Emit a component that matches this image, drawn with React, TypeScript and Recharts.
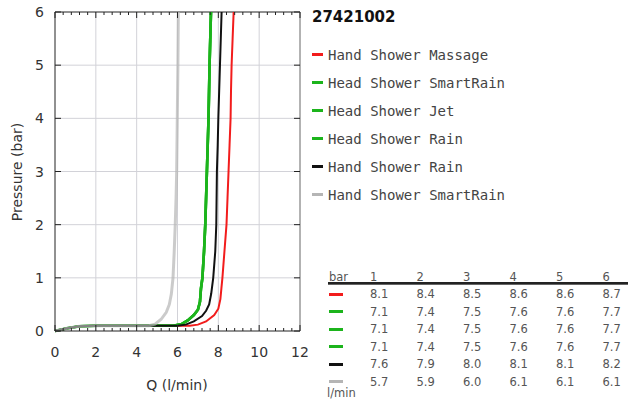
import React from 'react';
import { LineChart, Line, XAxis, YAxis, CartesianGrid, ReferenceLine } from 'recharts';

// chart title and series names / colours
const chartTitle = '27421002';
const seriesNames = [
  'Hand Shower Massage',
  'Head Shower SmartRain',
  'Head Shower Jet',
  'Head Shower Rain',
  'Hand Shower Rain',
  'Hand Shower SmartRain',
];
const seriesColors = ['#f21c1c', '#1cb41c', '#1cb41c', '#1cb41c', '#111111', '#b5b5b5'];
const seriesWidths = [2, 2.6, 2.6, 2.6, 2, 3];

// measured curves: q = flow (l/min), p = pressure (bar)
const handMassage = [
  { q: 0, p: 0 }, { q: 0.6, p: 0.05 }, { q: 1.2, p: 0.09 }, { q: 2, p: 0.1 },
  { q: 6.6, p: 0.1 }, { q: 7.0, p: 0.12 }, { q: 7.4, p: 0.18 }, { q: 7.8, p: 0.3 },
  { q: 8.0, p: 0.42 }, { q: 8.1, p: 0.6 }, { q: 8.15, p: 0.8 }, { q: 8.2, p: 1.0 },
  { q: 8.3, p: 1.5 }, { q: 8.4, p: 2.0 }, { q: 8.45, p: 2.5 }, { q: 8.5, p: 3.0 },
  { q: 8.55, p: 3.5 }, { q: 8.6, p: 4.0 }, { q: 8.62, p: 4.5 }, { q: 8.65, p: 5.0 },
  { q: 8.7, p: 5.5 }, { q: 8.75, p: 6.0 },
];
const headSmartRain = [
  { q: 0, p: 0 }, { q: 0.6, p: 0.05 }, { q: 1.2, p: 0.09 }, { q: 2, p: 0.1 },
  { q: 5.8, p: 0.1 }, { q: 6.2, p: 0.13 }, { q: 6.5, p: 0.2 }, { q: 6.8, p: 0.3 },
  { q: 7.0, p: 0.4 }, { q: 7.1, p: 0.55 }, { q: 7.15, p: 0.8 }, { q: 7.22, p: 1.0 },
  { q: 7.3, p: 1.5 }, { q: 7.36, p: 2.0 }, { q: 7.44, p: 3.0 }, { q: 7.48, p: 3.5 },
  { q: 7.52, p: 4.0 }, { q: 7.57, p: 5.0 }, { q: 7.64, p: 6.0 },
];
const headJet = [
  { q: 0, p: 0 }, { q: 0.6, p: 0.05 }, { q: 1.2, p: 0.09 }, { q: 2, p: 0.1 },
  { q: 5.8, p: 0.1 }, { q: 6.2, p: 0.13 }, { q: 6.5, p: 0.2 }, { q: 6.8, p: 0.3 },
  { q: 7.0, p: 0.4 }, { q: 7.1, p: 0.55 }, { q: 7.15, p: 0.8 }, { q: 7.22, p: 1.0 },
  { q: 7.3, p: 1.5 }, { q: 7.36, p: 2.0 }, { q: 7.44, p: 3.0 }, { q: 7.48, p: 3.5 },
  { q: 7.52, p: 4.0 }, { q: 7.57, p: 5.0 }, { q: 7.64, p: 6.0 },
];
const headRain = [
  { q: 0, p: 0 }, { q: 0.6, p: 0.05 }, { q: 1.2, p: 0.09 }, { q: 2, p: 0.1 },
  { q: 5.8, p: 0.1 }, { q: 6.2, p: 0.13 }, { q: 6.5, p: 0.2 }, { q: 6.8, p: 0.3 },
  { q: 7.0, p: 0.4 }, { q: 7.1, p: 0.55 }, { q: 7.15, p: 0.8 }, { q: 7.22, p: 1.0 },
  { q: 7.3, p: 1.5 }, { q: 7.36, p: 2.0 }, { q: 7.44, p: 3.0 }, { q: 7.48, p: 3.5 },
  { q: 7.52, p: 4.0 }, { q: 7.57, p: 5.0 }, { q: 7.64, p: 6.0 },
];
const handRain = [
  { q: 0, p: 0 }, { q: 0.6, p: 0.05 }, { q: 1.2, p: 0.09 }, { q: 2, p: 0.1 },
  { q: 6.0, p: 0.1 }, { q: 6.4, p: 0.12 }, { q: 6.8, p: 0.18 }, { q: 7.2, p: 0.28 },
  { q: 7.4, p: 0.38 }, { q: 7.55, p: 0.5 }, { q: 7.65, p: 0.7 }, { q: 7.75, p: 1.0 },
  { q: 7.85, p: 1.5 }, { q: 7.9, p: 2.0 }, { q: 7.93, p: 3.0 }, { q: 7.97, p: 3.5 },
  { q: 8.0, p: 4.0 }, { q: 8.08, p: 5.0 }, { q: 8.16, p: 6.0 },
];
const handSmartRain = [
  { q: 0, p: 0 }, { q: 0.6, p: 0.05 }, { q: 1.2, p: 0.09 }, { q: 2, p: 0.1 },
  { q: 4.6, p: 0.1 }, { q: 4.9, p: 0.13 }, { q: 5.2, p: 0.22 }, { q: 5.45, p: 0.35 },
  { q: 5.6, p: 0.5 }, { q: 5.7, p: 0.7 }, { q: 5.78, p: 1.0 }, { q: 5.84, p: 1.5 },
  { q: 5.89, p: 2.0 }, { q: 5.93, p: 2.5 }, { q: 5.96, p: 3.0 }, { q: 5.99, p: 4.0 },
  { q: 6.02, p: 5.0 }, { q: 6.04, p: 6.0 },
];
const seriesData = [handMassage, headSmartRain, headJet, headRain, handRain, handSmartRain];

// flow table (l/min at given bar)
const tableBars = [1, 2, 3, 4, 5, 6];
const tableFlows = [
  [8.1, 8.4, 8.5, 8.6, 8.6, 8.7],
  [7.1, 7.4, 7.5, 7.6, 7.6, 7.7],
  [7.1, 7.4, 7.5, 7.6, 7.6, 7.7],
  [7.1, 7.4, 7.5, 7.6, 7.6, 7.7],
  [7.6, 7.9, 8.0, 8.1, 8.1, 8.2],
  [5.7, 5.9, 6.0, 6.1, 6.1, 6.1],
];

// axis ticks
const xTicks = [
  0, 0.4, 0.8, 1.2, 1.6, 2, 2.4, 2.8, 3.2, 3.6, 4, 4.4, 4.8, 5.2, 5.6, 6,
  6.4, 6.8, 7.2, 7.6, 8, 8.4, 8.8, 9.2, 9.6, 10, 10.4, 10.8, 11.2, 11.6, 12,
];
const xMajor = [0, 2, 4, 6, 8, 10, 12];
const yTicks = [0, 1, 2, 3, 4, 5, 6];
const gridX = [2, 4, 6, 8, 10];
const gridY = [1, 2, 3, 4, 5];

const PLOT_LEFT = 55;
const PLOT_RIGHT = 300;
const PLOT_TOP = 12;
const PLOT_BOTTOM = 331;
const sans = '"DejaVu Sans", sans-serif';

const XTick = (props: any) => {
  const { x, payload } = props;
  const major = xMajor.includes(payload.value);
  const len = major ? 6 : 3;
  return (
    <g>
      <line x1={x} y1={PLOT_BOTTOM} x2={x} y2={PLOT_BOTTOM - len} stroke="#222" />
      <line x1={x} y1={PLOT_TOP} x2={x} y2={PLOT_TOP + len} stroke="#222" />
      {major && (
        <text x={x} y={PLOT_BOTTOM + 26} textAnchor="middle" fontSize={14} fill="#333" fontFamily={sans}>
          {payload.value}
        </text>
      )}
    </g>
  );
};

const YTick = (props: any) => {
  const { y, payload } = props;
  return (
    <g>
      <line x1={PLOT_LEFT} y1={y} x2={PLOT_LEFT + 6} y2={y} stroke="#222" />
      <line x1={PLOT_RIGHT} y1={y} x2={PLOT_RIGHT - 6} y2={y} stroke="#222" />
      <text x={44} y={y + 5} textAnchor="end" fontSize={14} fill="#333" fontFamily={sans}>
        {payload.value}
      </text>
    </g>
  );
};

export default function App() {
  const colLeft = (i: number) => 370 + i * 46.5;
  const rowMid = (i: number) => 294.3 + i * 17.5;
  return (
    <div style={{ position: 'absolute', left: 0, top: 0, width: 628, height: 401, background: '#fff' }}>
      <LineChart
        width={628}
        height={401}
        margin={{ top: PLOT_TOP, right: 628 - PLOT_RIGHT, bottom: 401 - PLOT_BOTTOM - 1, left: PLOT_LEFT - 1 }}
      >
        <CartesianGrid stroke="#d2d2d8" verticalValues={gridX} horizontalValues={gridY} />
        <XAxis
          type="number"
          dataKey="q"
          domain={[0, 12]}
          ticks={xTicks}
          interval={0}
          height={1}
          tickSize={0}
          tickMargin={0}
          tickLine={false}
          tick={(p: any) => <XTick {...p} />}
          axisLine={{ stroke: '#222' }}
        />
        <YAxis
          type="number"
          dataKey="p"
          domain={[0, 6]}
          ticks={yTicks}
          interval={0}
          width={1}
          tickSize={0}
          tickMargin={0}
          tickLine={false}
          tick={(p: any) => <YTick {...p} />}
          axisLine={{ stroke: '#222' }}
        />
        <ReferenceLine y={6} stroke="#222" />
        <ReferenceLine x={12} stroke="#666" />
        {seriesData.map((d, i) => (
          <Line
            key={seriesNames[i]}
            data={d}
            dataKey="p"
            type="linear"
            stroke={seriesColors[i]}
            strokeWidth={seriesWidths[i]}
            strokeOpacity={i === 5 ? 0.7 : 1}
            dot={false}
            activeDot={false}
            isAnimationActive={false}
          />
        ))}
      </LineChart>

      {/* axis titles */}
      <div
        style={{
          position: 'absolute', left: 17, top: 172, transform: 'translate(-50%, -50%) rotate(-90deg)',
          whiteSpace: 'nowrap', fontFamily: sans, fontSize: 14, color: '#333',
        }}
      >
        Pressure (bar)
      </div>
      <div
        style={{
          position: 'absolute', left: 177, top: 385, transform: 'translate(-50%, -50%)',
          whiteSpace: 'nowrap', fontFamily: sans, fontSize: 14, color: '#333',
        }}
      >
        Q (l/min)
      </div>

      {/* legend */}
      <div
        style={{
          position: 'absolute', left: 312, top: 8, lineHeight: '18px', fontFamily: sans,
          fontSize: 15, fontWeight: 'bold', color: '#111',
        }}
      >
        {chartTitle}
      </div>
      {seriesNames.map((name, i) => (
        <div
          key={name}
          style={{
            position: 'absolute', left: 312, top: 54.5 + i * 28 - 9, height: 18, lineHeight: '18px',
            whiteSpace: 'nowrap', fontFamily: '"DejaVu Sans Mono", monospace', fontSize: 14, color: '#444',
          }}
        >
          <span
            style={{
              display: 'inline-block', width: 11, height: 2.5, background: seriesColors[i],
              verticalAlign: 'middle', marginRight: 5, marginTop: -2,
            }}
          />
          {name}
        </div>
      ))}

      {/* flow table */}
      <div style={{ position: 'absolute', left: 329, top: 277 - 8, lineHeight: '16px', fontFamily: sans, fontSize: 11.5, color: '#555' }}>
        bar
      </div>
      {tableBars.map((b, j) => (
        <div
          key={'h' + b}
          style={{ position: 'absolute', left: colLeft(j), top: 277 - 8, lineHeight: '16px', fontFamily: sans, fontSize: 11.5, color: '#555' }}
        >
          {b}
        </div>
      ))}
      <div style={{ position: 'absolute', left: 328, top: 282, width: 300, height: 1.5, background: '#222' }} />
      <div style={{ position: 'absolute', left: 328, top: 283.5, width: 300, height: 1.5, background: '#666' }} />
      {tableFlows.map((row, i) => (
        <React.Fragment key={'r' + i}>
          <div
            style={{
              position: 'absolute', left: 329, top: rowMid(i) - 1.5, width: 14, height: 3, background: seriesColors[i],
            }}
          />
          {row.map((v, j) => (
            <div
              key={j}
              style={{
                position: 'absolute', left: colLeft(j), top: rowMid(i) - 8, lineHeight: '16px',
                fontFamily: sans, fontSize: 11.5, color: '#555',
              }}
            >
              {v.toFixed(1)}
            </div>
          ))}
        </React.Fragment>
      ))}
      <div style={{ position: 'absolute', left: 327, top: 392.5 - 8, lineHeight: '16px', fontFamily: sans, fontSize: 11.5, color: '#555' }}>
        l/min
      </div>
    </div>
  );
}
